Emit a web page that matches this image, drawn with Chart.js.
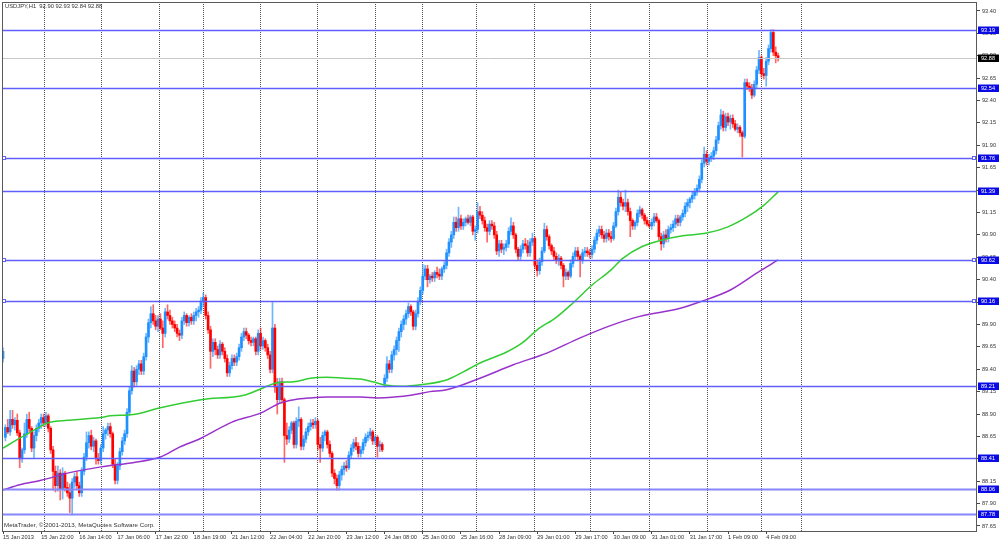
<!DOCTYPE html>
<html>
<head>
<meta charset="utf-8">
<title>USDJPY,H1</title>
<script src="https://cdn.jsdelivr.net/npm/chart.js@4.4.1/dist/chart.umd.min.js"></script>
<style>
  html, body { margin: 0; padding: 0; background: #fff; }
  #priceChart { display: block; }
</style>
</head>
<body>
<canvas id="priceChart" width="1000" height="541"></canvas>
<script>
const symbolTitle = 'USDJPY,H1  92.90 92.93 92.84 92.88'
const copyright = 'MetaTrader, \u00a9 2001-2013, MetaQuotes Software Corp.'

// hourly candles, one entry per bar
const opens = [
  89.52, 88.64, 88.75, 88.70, 88.84, 88.78, 88.83, 88.69, 88.40, 88.50,
  88.68, 88.84, 88.74, 88.52, 88.66, 88.74, 88.80, 88.86, 88.80, 88.88,
  88.74, 88.50, 88.26, 88.10, 88.24, 88.06, 88.24, 88.08, 88.02, 87.96,
  88.14, 88.20, 88.10, 88.02, 88.26, 88.42, 88.58, 88.66, 88.54, 88.60,
  88.40, 88.38, 88.52, 88.68, 88.72, 88.76, 88.68, 88.34, 88.16, 88.32,
  88.48, 88.60, 88.68, 88.92, 89.16, 89.38, 89.26, 89.40, 89.46, 89.38,
  89.54, 89.76, 89.92, 90.02, 89.94, 89.88, 89.96, 89.86, 89.80, 90.04,
  90.00, 89.94, 89.90, 89.86, 89.80, 89.78, 89.94, 90.00, 89.92, 89.98,
  89.94, 90.00, 90.04, 90.06, 90.16, 90.20, 90.00, 89.84, 89.60, 89.70,
  89.62, 89.56, 89.68, 89.60, 89.52, 89.36, 89.44, 89.52, 89.48, 89.54,
  89.64, 89.76, 89.82, 89.78, 89.72, 89.70, 89.74, 89.60, 89.80, 89.66,
  89.72, 89.64, 89.56, 89.40, 89.86, 89.20, 89.06, 89.26, 89.06, 88.66,
  88.62, 88.72, 88.80, 88.56, 88.82, 88.84, 88.54, 88.62, 88.70, 88.76,
  88.80, 88.78, 88.82, 88.56, 88.52, 88.66, 88.70, 88.56, 88.46, 88.24,
  88.18, 88.10, 88.22, 88.28, 88.32, 88.30, 88.44, 88.52, 88.58, 88.54,
  88.46, 88.50, 88.58, 88.64, 88.66, 88.70, 88.60, 88.64, 88.54, 88.56,
  89.24, 89.30, 89.46, 89.40, 89.56, 89.62, 89.72, 89.82, 89.90, 89.96,
  90.02, 90.10, 90.04, 89.88, 90.02, 90.16, 90.28, 90.44, 90.52, 90.40,
  90.44, 90.42, 90.48, 90.46, 90.44, 90.52, 90.56, 90.70, 90.82, 90.90,
  91.04, 90.98, 91.08, 91.00, 91.04, 91.08, 91.04, 91.10, 90.94, 90.96,
  91.16, 91.12, 91.06, 90.98, 90.94, 91.02, 91.00, 90.90, 90.72, 90.80,
  90.74, 90.76, 90.80, 90.94, 91.00, 90.90, 90.74, 90.66, 90.74, 90.80,
  90.78, 90.70, 90.82, 90.86, 90.56, 90.50, 90.60, 90.72, 90.96, 90.88,
  90.78, 90.72, 90.66, 90.62, 90.64, 90.56, 90.44, 90.48, 90.44, 90.58,
  90.66, 90.72, 90.66, 90.62, 90.70, 90.72, 90.70, 90.68, 90.74, 90.84,
  90.92, 90.96, 90.90, 90.86, 90.92, 90.88, 90.86, 91.00, 91.16, 91.32,
  91.26, 91.22, 91.26, 91.16, 91.06, 91.00, 91.04, 91.14, 91.18, 91.12,
  91.06, 91.02, 91.00, 91.04, 91.10, 91.06, 90.88, 90.80, 90.90, 90.86,
  90.96, 90.98, 91.02, 91.08, 91.04, 91.10, 91.14, 91.22, 91.26, 91.30,
  91.34, 91.38, 91.42, 91.52, 91.70, 91.80, 91.72, 91.76, 91.78, 91.84,
  91.96, 92.12, 92.24, 92.10, 92.22, 92.16, 92.20, 92.14, 92.08, 92.10,
  92.04, 92.00, 92.60, 92.56, 92.54, 92.46, 92.58, 92.74, 92.88, 92.70,
  92.68, 92.84, 92.98, 93.16, 92.94, 92.90
]
const highs = [
  89.64, 88.78, 88.84, 88.94, 88.94, 88.86, 88.90, 88.72, 88.52, 88.80,
  88.90, 88.92, 88.76, 88.70, 88.78, 88.84, 88.90, 88.90, 88.92, 88.90,
  88.76, 88.54, 88.32, 88.32, 88.28, 88.30, 88.26, 88.14, 88.12, 88.18,
  88.24, 88.26, 88.14, 88.30, 88.46, 88.70, 88.70, 88.72, 88.64, 88.62,
  88.46, 88.56, 88.76, 88.74, 88.80, 88.80, 88.70, 88.40, 88.36, 88.52,
  88.64, 88.72, 88.96, 89.20, 89.44, 89.42, 89.44, 89.50, 89.50, 89.58,
  89.80, 89.96, 90.10, 90.12, 90.00, 90.00, 90.02, 89.94, 90.08, 90.12,
  90.06, 89.98, 89.94, 89.90, 89.84, 89.98, 90.04, 90.02, 90.00, 90.02,
  90.04, 90.08, 90.10, 90.20, 90.25, 90.23, 90.04, 89.88, 89.74, 89.74,
  89.66, 89.72, 89.70, 89.64, 89.56, 89.48, 89.56, 89.56, 89.58, 89.68,
  89.80, 89.86, 89.86, 89.80, 89.76, 89.76, 89.76, 89.84, 89.86, 89.76,
  89.74, 89.68, 89.60, 90.15, 89.90, 89.30, 89.30, 89.30, 89.08, 88.80,
  88.76, 88.82, 88.82, 88.86, 88.98, 88.86, 88.66, 88.74, 88.80, 88.84,
  88.84, 88.86, 88.84, 88.64, 88.70, 88.72, 88.72, 88.60, 88.48, 88.28,
  88.22, 88.26, 88.32, 88.36, 88.38, 88.48, 88.56, 88.62, 88.64, 88.58,
  88.54, 88.62, 88.68, 88.70, 88.74, 88.72, 88.66, 88.66, 88.60, 88.58,
  89.34, 89.54, 89.50, 89.60, 89.66, 89.76, 89.86, 89.94, 90.00, 90.06,
  90.14, 90.12, 90.06, 90.06, 90.20, 90.32, 90.57, 90.56, 90.56, 90.46,
  90.48, 90.50, 90.54, 90.52, 90.54, 90.60, 90.74, 90.86, 90.94, 91.10,
  91.10, 91.21, 91.12, 91.08, 91.10, 91.12, 91.12, 91.12, 91.00, 91.26,
  91.22, 91.16, 91.10, 91.02, 91.06, 91.06, 91.04, 90.94, 90.84, 90.84,
  90.80, 90.84, 90.98, 91.09, 91.04, 90.92, 90.76, 90.78, 90.84, 90.86,
  90.84, 90.86, 90.92, 90.88, 90.62, 90.64, 90.76, 91.03, 91.00, 90.90,
  90.80, 90.76, 90.70, 90.68, 90.66, 90.58, 90.52, 90.50, 90.62, 90.70,
  90.76, 90.76, 90.68, 90.74, 90.76, 90.76, 90.74, 90.78, 90.88, 90.96,
  91.00, 91.00, 90.94, 90.96, 90.96, 90.94, 91.04, 91.20, 91.40, 91.38,
  91.30, 91.40, 91.30, 91.20, 91.08, 91.06, 91.18, 91.22, 91.20, 91.14,
  91.10, 91.06, 91.08, 91.14, 91.14, 91.08, 90.92, 90.94, 90.96, 91.00,
  91.02, 91.06, 91.12, 91.12, 91.12, 91.18, 91.26, 91.30, 91.32, 91.38,
  91.42, 91.46, 91.56, 91.74, 91.88, 91.84, 91.80, 91.82, 91.88, 92.00,
  92.16, 92.30, 92.28, 92.26, 92.26, 92.24, 92.24, 92.18, 92.14, 92.12,
  92.06, 92.64, 92.64, 92.60, 92.58, 92.62, 92.78, 92.96, 92.90, 92.76,
  92.88, 93.02, 93.19, 93.19, 93.00, 92.93
]
const lows = [
  89.48, 88.60, 88.68, 88.66, 88.74, 88.72, 88.66, 88.30, 88.36, 88.46,
  88.64, 88.70, 88.48, 88.41, 88.60, 88.70, 88.74, 88.76, 88.76, 88.70,
  88.46, 88.05, 88.03, 88.04, 87.94, 87.95, 88.04, 87.98, 87.80, 87.77,
  88.08, 88.06, 87.98, 87.98, 88.22, 88.38, 88.52, 88.50, 88.48, 88.34,
  88.34, 88.34, 88.48, 88.62, 88.66, 88.64, 88.30, 88.12, 88.12, 88.28,
  88.44, 88.56, 88.64, 88.88, 89.12, 89.20, 89.22, 89.34, 89.34, 89.34,
  89.50, 89.70, 89.86, 89.90, 89.84, 89.82, 89.84, 89.64, 89.76, 89.96,
  89.90, 89.86, 89.82, 89.76, 89.72, 89.74, 89.90, 89.88, 89.88, 89.90,
  89.90, 89.94, 89.98, 90.02, 90.10, 89.96, 89.80, 89.41, 89.54, 89.56,
  89.52, 89.52, 89.56, 89.48, 89.32, 89.32, 89.40, 89.44, 89.44, 89.50,
  89.60, 89.72, 89.74, 89.68, 89.66, 89.66, 89.56, 89.56, 89.62, 89.62,
  89.60, 89.52, 89.36, 89.36, 89.14, 88.90, 89.02, 89.02, 88.36, 88.56,
  88.58, 88.68, 88.52, 88.52, 88.76, 88.50, 88.50, 88.58, 88.66, 88.72,
  88.74, 88.74, 88.50, 88.36, 88.48, 88.60, 88.52, 88.42, 88.20, 88.12,
  88.05, 88.05, 88.16, 88.22, 88.26, 88.28, 88.40, 88.48, 88.50, 88.42,
  88.42, 88.46, 88.54, 88.60, 88.62, 88.56, 88.56, 88.42, 88.48, 88.48,
  89.20, 89.26, 89.36, 89.36, 89.50, 89.56, 89.60, 89.76, 89.84, 89.90,
  89.98, 90.00, 89.84, 89.84, 89.98, 90.12, 90.24, 90.40, 90.32, 90.36,
  90.38, 90.38, 90.42, 90.40, 90.40, 90.48, 90.52, 90.66, 90.76, 90.86,
  90.94, 90.94, 90.96, 90.96, 91.00, 91.02, 91.00, 90.90, 90.84, 90.92,
  91.08, 91.02, 90.94, 90.82, 90.90, 90.96, 90.86, 90.68, 90.66, 90.70,
  90.68, 90.72, 90.76, 90.90, 90.86, 90.70, 90.62, 90.62, 90.70, 90.74,
  90.66, 90.66, 90.78, 90.52, 90.44, 90.46, 90.56, 90.70, 90.84, 90.74,
  90.68, 90.62, 90.58, 90.56, 90.52, 90.32, 90.40, 90.40, 90.42, 90.54,
  90.62, 90.62, 90.43, 90.58, 90.66, 90.66, 90.64, 90.64, 90.70, 90.80,
  90.88, 90.86, 90.82, 90.82, 90.84, 90.82, 90.84, 90.98, 91.12, 91.22,
  91.18, 91.16, 91.12, 90.88, 90.96, 90.96, 91.00, 91.10, 91.08, 91.02,
  91.00, 90.98, 90.96, 91.00, 91.04, 90.84, 90.73, 90.76, 90.82, 90.82,
  90.92, 90.94, 90.98, 91.00, 91.00, 91.06, 91.10, 91.16, 91.20, 91.26,
  91.30, 91.34, 91.38, 91.48, 91.66, 91.68, 91.68, 91.72, 91.74, 91.80,
  91.92, 92.08, 92.06, 92.06, 92.12, 92.08, 92.10, 92.06, 92.04, 92.00,
  91.77, 91.98, 92.52, 92.50, 92.42, 92.44, 92.54, 92.70, 92.66, 92.64,
  92.56, 92.80, 92.94, 92.90, 92.82, 92.84
]
const closes = [
  89.60, 88.75, 88.70, 88.84, 88.78, 88.83, 88.69, 88.40, 88.50, 88.68,
  88.84, 88.74, 88.52, 88.66, 88.74, 88.80, 88.86, 88.80, 88.88, 88.74,
  88.50, 88.26, 88.10, 88.24, 88.06, 88.24, 88.08, 88.02, 87.96, 88.14,
  88.20, 88.10, 88.02, 88.26, 88.42, 88.58, 88.66, 88.54, 88.60, 88.40,
  88.38, 88.52, 88.68, 88.72, 88.76, 88.68, 88.34, 88.16, 88.32, 88.48,
  88.60, 88.68, 88.92, 89.16, 89.38, 89.26, 89.40, 89.46, 89.38, 89.54,
  89.76, 89.92, 90.02, 89.94, 89.88, 89.96, 89.86, 89.80, 90.04, 90.00,
  89.94, 89.90, 89.86, 89.80, 89.78, 89.94, 90.00, 89.92, 89.98, 89.94,
  90.00, 90.04, 90.06, 90.16, 90.20, 90.00, 89.84, 89.60, 89.70, 89.62,
  89.56, 89.68, 89.60, 89.52, 89.36, 89.44, 89.52, 89.48, 89.54, 89.64,
  89.76, 89.82, 89.78, 89.72, 89.70, 89.74, 89.60, 89.80, 89.66, 89.72,
  89.64, 89.56, 89.40, 89.86, 89.20, 89.06, 89.26, 89.06, 88.66, 88.62,
  88.72, 88.80, 88.56, 88.82, 88.84, 88.54, 88.62, 88.70, 88.76, 88.80,
  88.78, 88.82, 88.56, 88.52, 88.66, 88.70, 88.56, 88.46, 88.24, 88.18,
  88.10, 88.22, 88.28, 88.32, 88.30, 88.44, 88.52, 88.58, 88.54, 88.46,
  88.50, 88.58, 88.64, 88.66, 88.70, 88.60, 88.64, 88.54, 88.56, 88.50,
  89.30, 89.46, 89.40, 89.56, 89.62, 89.72, 89.82, 89.90, 89.96, 90.02,
  90.10, 90.04, 89.88, 90.02, 90.16, 90.28, 90.44, 90.52, 90.40, 90.44,
  90.42, 90.48, 90.46, 90.44, 90.52, 90.56, 90.70, 90.82, 90.90, 91.04,
  90.98, 91.08, 91.00, 91.04, 91.08, 91.04, 91.10, 90.94, 90.96, 91.16,
  91.12, 91.06, 90.98, 90.94, 91.02, 91.00, 90.90, 90.72, 90.80, 90.74,
  90.76, 90.80, 90.94, 91.00, 90.90, 90.74, 90.66, 90.74, 90.80, 90.78,
  90.70, 90.82, 90.86, 90.56, 90.50, 90.60, 90.72, 90.96, 90.88, 90.78,
  90.72, 90.66, 90.62, 90.64, 90.56, 90.44, 90.48, 90.44, 90.58, 90.66,
  90.72, 90.66, 90.62, 90.70, 90.72, 90.70, 90.68, 90.74, 90.84, 90.92,
  90.96, 90.90, 90.86, 90.92, 90.88, 90.86, 91.00, 91.16, 91.32, 91.26,
  91.22, 91.26, 91.16, 91.06, 91.00, 91.04, 91.14, 91.18, 91.12, 91.06,
  91.02, 91.00, 91.04, 91.10, 91.06, 90.88, 90.80, 90.90, 90.86, 90.96,
  90.98, 91.02, 91.08, 91.04, 91.10, 91.14, 91.22, 91.26, 91.30, 91.34,
  91.38, 91.42, 91.52, 91.70, 91.80, 91.72, 91.76, 91.78, 91.84, 91.96,
  92.12, 92.24, 92.10, 92.22, 92.16, 92.20, 92.14, 92.08, 92.10, 92.04,
  92.00, 92.60, 92.56, 92.54, 92.46, 92.58, 92.74, 92.88, 92.70, 92.68,
  92.84, 92.98, 93.16, 92.94, 92.90, 92.88
]

const maFastBars = [0, 7, 13, 17, 20, 27, 34, 41, 45, 52, 56, 66, 83, 101, 108, 115, 122, 129, 136, 143,
  150, 155, 161, 167, 176, 186, 193, 200, 211, 218, 224, 232, 239, 247, 255, 260, 268, 276, 285, 295,
  304, 312, 319, 325]
const maFastValues = [88.52, 88.63, 88.72, 88.78, 88.81, 88.83, 88.845, 88.86, 88.88, 88.89, 88.90, 88.97, 89.06, 89.11, 89.18, 89.25, 89.26, 89.30, 89.31, 89.30,
  89.29, 89.26, 89.22, 89.21, 89.23, 89.28, 89.37, 89.47, 89.59, 89.70, 89.84, 89.98, 90.14, 90.34, 90.51, 90.64, 90.77, 90.84, 90.89, 90.92,
  90.99, 91.10, 91.23, 91.38]
const maSlowBars = [0, 7, 16, 27, 41, 55, 66, 74, 83, 96, 108, 116, 122, 129, 136, 150, 157, 164, 171, 179,
  186, 200, 214, 228, 242, 255, 267, 284, 292, 305, 317, 325]
const maSlowValues = [88.05, 88.11, 88.16, 88.24, 88.31, 88.36, 88.42, 88.53, 88.63, 88.81, 88.91, 89.02, 89.06, 89.08, 89.09, 89.09, 89.08, 89.09, 89.11, 89.15,
  89.17, 89.30, 89.45, 89.58, 89.75, 89.89, 89.99, 90.08, 90.15, 90.285, 90.49, 90.62]

// one time label every 16 bars
const timeLabels = ['15 Jan 2013', '15 Jan 22:00', '16 Jan 14:00', '17 Jan 06:00', '17 Jan 22:00', '18 Jan 19:00',
  '21 Jan 12:00', '22 Jan 04:00', '22 Jan 20:00', '23 Jan 12:00', '24 Jan 08:00', '25 Jan 00:00', '25 Jan 16:00',
  '28 Jan 09:00', '29 Jan 01:00', '29 Jan 17:00', '30 Jan 09:00', '31 Jan 01:00', '31 Jan 17:00', '1 Feb 09:00', '4 Feb 09:00']
const dayLines = [17.6, 41.5, 65.8, 83.9, 107.8, 131.7, 156, 176.1, 198.7, 223, 246.5, 270.9, 295.2, 318.2, 335]
const priceTicks = [87.65, 87.90, 88.15, 88.40, 88.65, 88.90, 89.15, 89.40, 89.65, 89.90, 90.15, 90.40,
  90.65, 90.90, 91.15, 91.40, 91.65, 91.90, 92.15, 92.40, 92.65, 92.90, 93.15, 93.40]

// horizontal lines drawn on the chart
const levels = [93.19, 92.54, 91.76, 91.39, 90.62, 90.16, 89.21, 88.41, 88.06, 87.78]
const markedLevels = [91.76, 90.62, 90.16]
const wideLevels = [88.06, 87.78]
const lastPrice = 92.88

const labelEvery = 16
const labelBars = timeLabels.map((t, i) => i * labelEvery)

const upColor = '#1e90ff'
const downColor = '#ff0000'
const upWick = 'rgba(30,144,255,0.65)'
const downWick = 'rgba(255,0,0,0.6)'
const levelColor = '#5f5fff'
const textColor = '#333333'
const tinyFont = { family: '"Liberation Sans", Arial, sans-serif', size: 5.6 }

const candleColors = opens.map((o, i) => closes[i] >= o ? upColor : downColor)
const wickColors = opens.map((o, i) => closes[i] >= o ? upWick : downWick)
const wickData = opens.map((o, i) => ({ x: i, y: [lows[i], highs[i]] }))
const bodyData = opens.map((o, i) => ({ x: i, y: [o, closes[i]] }))
const maFast = maFastBars.map((b, i) => ({ x: b, y: maFastValues[i] }))
const maSlow = maSlowBars.map((b, i) => ({ x: b, y: maSlowValues[i] }))

// no extra room for the first/last tick labels, the plot goes edge to edge
const noLabelPadding = scale => {
    scale.paddingTop = 0
    scale.paddingBottom = 0
    scale.paddingLeft = 0
    scale.paddingRight = 0
}

const chartDecor = {
    id: 'chartDecor',
    afterDatasetsDraw(chart) {
        const { ctx, chartArea: area, scales: { y } } = chart
        ctx.save()

        const hline = (py) => {
            ctx.beginPath()
            ctx.moveTo(area.left, py)
            ctx.lineTo(area.right, py)
            ctx.stroke()
        }

        ctx.strokeStyle = '#c8c8c8'
        ctx.lineWidth = 1
        hline(Math.round(y.getPixelForValue(lastPrice)) + 0.5)

        levels.forEach(v => {
            const py = Math.round(y.getPixelForValue(v)) + 0.5
            const wide = wideLevels.includes(v)
            ctx.strokeStyle = wide ? '#8686ff' : levelColor
            ctx.lineWidth = wide ? 2.2 : 1.6
            hline(py)
        })

        ctx.lineWidth = 1
        ctx.strokeStyle = levelColor
        ctx.fillStyle = '#ffffff'
        markedLevels.forEach(v => {
            const py = Math.round(y.getPixelForValue(v))
            ctx.fillRect(area.left + 0.5, py - 1.5, 3, 3)
            ctx.strokeRect(area.left + 0.5, py - 1.5, 3, 3)
            ctx.fillRect(area.right - 4.5, py - 1.5, 3, 3)
            ctx.strokeRect(area.right - 4.5, py - 1.5, 3, 3)
        })

        // price tags on the axis
        ctx.font = `${tinyFont.size}px ${tinyFont.family}`
        ctx.textBaseline = 'middle'
        ctx.textAlign = 'left'
        const tag = (v, bg) => {
            const py = Math.round(y.getPixelForValue(v))
            ctx.fillStyle = bg
            ctx.fillRect(area.right + 1, py - 3.5, 21, 7.5)
            ctx.fillStyle = '#ffffff'
            ctx.fillText(v.toFixed(2), area.right + 4, py + 0.3)
        }
        levels.forEach(v => tag(v, '#0a0ae6'))
        tag(lastPrice, '#000000')

        // frame
        ctx.strokeStyle = '#5a5a5a'
        ctx.lineWidth = 1
        ctx.strokeRect(area.left + 0.5, area.top + 0.5, area.width - 1, area.height)

        ctx.fillStyle = textColor
        ctx.font = `5.8px ${tinyFont.family}`
        ctx.fillText(symbolTitle, 5, 6.5)
        ctx.font = `6.2px ${tinyFont.family}`
        ctx.fillText(copyright, 4, 525.5)

        ctx.restore()
    }
}

new Chart(document.getElementById('priceChart'), {
    type: 'bar',
    data: {
        datasets: [
            {
                type: 'line',
                label: 'MA fast',
                data: maFast,
                borderColor: '#32cd32',
                borderWidth: 1.5,
                pointRadius: 0,
                cubicInterpolationMode: 'monotone',
                order: 0
            },
            {
                type: 'line',
                label: 'MA slow',
                data: maSlow,
                borderColor: '#9932cc',
                borderWidth: 1.5,
                pointRadius: 0,
                cubicInterpolationMode: 'monotone',
                order: 0
            },
            {
                label: 'body',
                data: bodyData,
                backgroundColor: candleColors,
                barThickness: 2,
                minBarLength: 1,
                grouped: false,
                borderWidth: 0,
                order: 1
            },
            {
                label: 'wick',
                data: wickData,
                backgroundColor: wickColors,
                barThickness: 1,
                grouped: false,
                borderWidth: 0,
                order: 2
            }
        ]
    },
    options: {
        responsive: false,
        animation: false,
        devicePixelRatio: 1,
        layout: { padding: { left: 2, top: 2, right: 0, bottom: 0 } },
        plugins: {
            legend: { display: false },
            tooltip: { enabled: false }
        },
        scales: {
            x: {
                type: 'linear',
                min: -0.42,
                max: 408.4,
                offset: false,
                afterBuildTicks: scale => {
                    scale.ticks = [...labelBars, ...dayLines].map(v => ({ value: v }))
                },
                afterFit: scale => {
                    scale.height = 10
                    noLabelPadding(scale)
                },
                grid: {
                    offset: false,
                    lineWidth: 1,
                    color: c => dayLines.includes(c.tick && c.tick.value) ? '#505050' : 'rgba(0,0,0,0)',
                    tickColor: c => labelBars.includes(c.tick && c.tick.value) ? '#444444' : 'rgba(0,0,0,0)',
                    tickLength: 3
                },
                border: { display: false, dash: [1, 1] },
                ticks: {
                    autoSkip: false,
                    maxRotation: 0,
                    align: 'start',
                    padding: 0,
                    color: textColor,
                    font: tinyFont,
                    callback: v => {
                        const k = labelBars.indexOf(v)
                        return k >= 0 ? timeLabels[k] : ''
                    }
                }
            },
            y: {
                position: 'right',
                min: 87.594,
                max: 93.50,
                afterBuildTicks: scale => {
                    scale.ticks = priceTicks.map(v => ({ value: v }))
                },
                afterFit: scale => {
                    scale.width = 23
                    noLabelPadding(scale)
                },
                grid: { drawOnChartArea: false, tickLength: 3, tickColor: '#444444' },
                border: { display: false },
                ticks: {
                    autoSkip: false,
                    padding: 2,
                    color: textColor,
                    font: tinyFont,
                    callback: v => v.toFixed(2)
                }
            }
        }
    },
    plugins: [chartDecor]
})
</script>
</body>
</html>
